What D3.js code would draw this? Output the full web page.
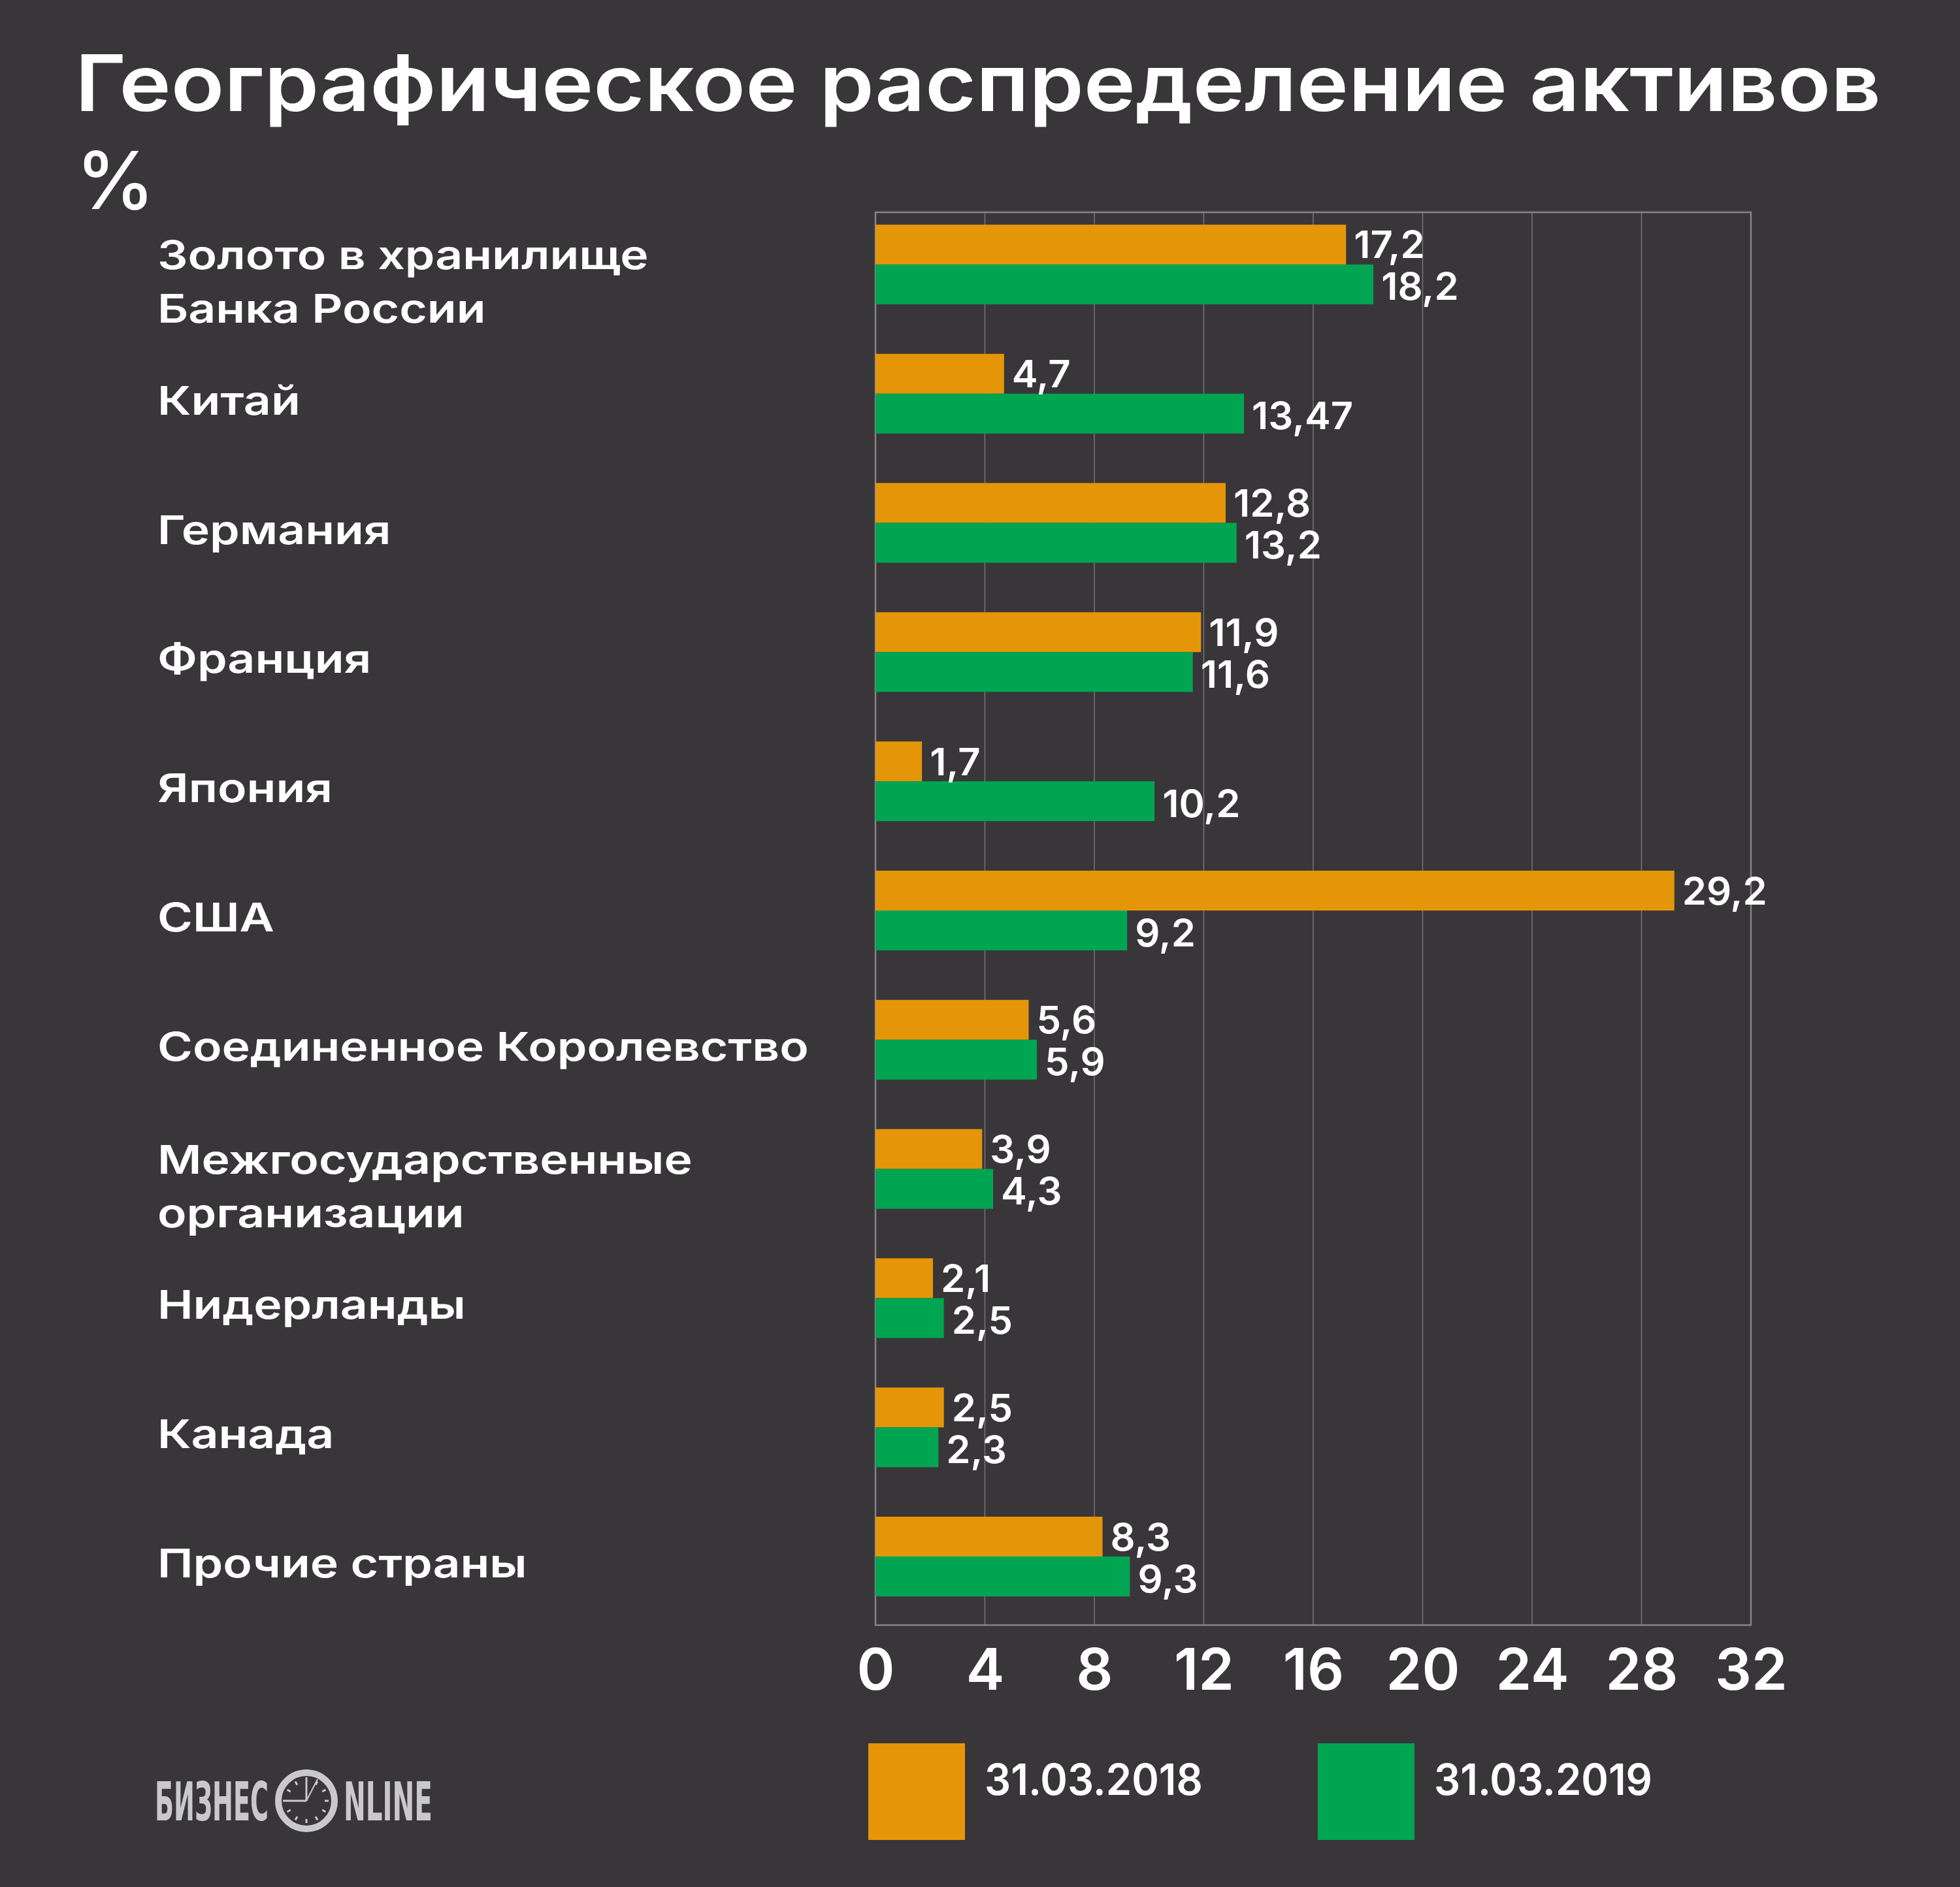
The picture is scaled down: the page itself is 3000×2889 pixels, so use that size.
<!DOCTYPE html>
<html>
<head>
<meta charset="utf-8">
<script src="https://cdn.jsdelivr.net/npm/d3@7"></script>
<style>
  html, body { margin: 0; padding: 0; background: #39363a; }
  svg { display: block; }
</style>
</head>
<body>
<svg id="chart" width="3000" height="2889"></svg>
<script>
// ---- DATA ----
const categories = [
  "Золото в хранилище\nБанка России",
  "Китай",
  "Германия",
  "Франция",
  "Япония",
  "США",
  "Соединенное Королевство",
  "Межгосударственные\nорганизации",
  "Нидерланды",
  "Канада",
  "Прочие страны"
];
const values2018 = [17.2, 4.7, 12.8, 11.9, 1.7, 29.2, 5.6, 3.9, 2.1, 2.5, 8.3];
const values2019 = [18.2, 13.47, 13.2, 11.6, 10.2, 9.2, 5.9, 4.3, 2.5, 2.3, 9.3];
const seriesNames = ["31.03.2018", "31.03.2019"];
const tickValues = [0, 4, 8, 12, 16, 20, 24, 28, 32];
const titleText = "Географическое распределение активов";
const unitText = "%";

// ---- STYLE ----
const BG = "#39363a";
const ORANGE = "#e59608";
const GREEN = "#00a551";
const FONT = "Inter, 'Open Sans', 'DejaVu Sans', sans-serif";

const svg = d3.select("#chart");
svg.append("rect").attr("width", 3000).attr("height", 2889).attr("fill", BG);

const frame = { left: 1340, right: 2680, top: 325, bottom: 2488 };

const x = d3.scaleLinear().domain([0, 32]).range([frame.left, frame.right]);
const y = d3.scaleBand().domain(categories).range([306, 2482]).paddingInner(0).paddingOuter(0);
const barH = 61;

function stretch(sel, k) {
  sel.each(function () {
    const w = this.getComputedTextLength();
    d3.select(this).attr("textLength", w * k).attr("lengthAdjust", "spacingAndGlyphs");
  });
}
function fitWidth(sel, target) {
  sel.each(function () {
    const t = d3.select(this);
    const w = this.getComputedTextLength();
    const x0 = +t.attr("x");
    const sx = target / w;
    t.attr("transform", `translate(${x0},0) scale(${sx},1) translate(${-x0},0)`);
  });
}

// Title
const title = svg.append("text")
  .attr("x", 115).attr("y", 170)
  .attr("fill", "#ffffff")
  .attr("font-family", FONT).attr("font-weight", 600).attr("font-size", 120)
  .text(titleText);
title.attr("textLength", 2764).attr("lengthAdjust", "spacingAndGlyphs");

svg.append("text")
  .attr("x", 116).attr("y", 320)
  .attr("fill", "#ffffff")
  .attr("font-family", FONT).attr("font-weight", 500).attr("font-size", 122)
  .text(unitText);

// Gridlines + frame
const grid = svg.append("g");
grid.selectAll("line.grid")
  .data(tickValues.filter(t => t > 0 && t < 32))
  .join("line")
  .attr("x1", d => x(d)).attr("x2", d => x(d))
  .attr("y1", frame.top).attr("y2", frame.bottom)
  .attr("stroke", "#77737a").attr("stroke-width", 1.5);
grid.append("rect")
  .attr("x", frame.left).attr("y", frame.top)
  .attr("width", frame.right - frame.left).attr("height", frame.bottom - frame.top)
  .attr("fill", "none").attr("stroke", "#87838a").attr("stroke-width", 2.5);

// Bars
const rows = categories.map((c, i) => ({ cat: c, v18: values2018[i], v19: values2019[i] }));
const center = c => y(c) + y.bandwidth() / 2;

const barsG = svg.append("g");
barsG.selectAll("rect.b18").data(rows).join("rect")
  .attr("x", x(0)).attr("y", d => center(d.cat) - barH)
  .attr("width", d => x(d.v18) - x(0)).attr("height", barH)
  .attr("fill", ORANGE);
barsG.selectAll("rect.b19").data(rows).join("rect")
  .attr("x", x(0)).attr("y", d => center(d.cat))
  .attr("width", d => x(d.v19) - x(0)).attr("height", barH)
  .attr("fill", GREEN);

const fmt = v => String(v).replace(".", ",");
const valueStyle = s => s.attr("fill", "#ffffff").attr("font-family", FONT)
  .attr("font-weight", 600).attr("font-size", 58);

const vl18 = barsG.selectAll("text.v18").data(rows).join("text")
  .attr("x", d => x(d.v18) + 12).attr("y", d => center(d.cat) - barH / 2 + 21)
  .call(valueStyle).text(d => fmt(d.v18));
const vl19 = barsG.selectAll("text.v19").data(rows).join("text")
  .attr("x", d => x(d.v19) + 12).attr("y", d => center(d.cat) + barH / 2 + 24)
  .call(valueStyle).text(d => fmt(d.v19));
stretch(vl18, 1.03);
stretch(vl19, 1.03);

// Category labels
const catG = svg.append("g");
catG.selectAll("text.cat").data(categories).join("text")
  .attr("fill", "#ffffff").attr("font-family", FONT).attr("font-weight", 600).attr("font-size", 61)
  .each(function (d) {
    const lines = d.split("\n");
    const t = d3.select(this);
    const c = center(d);
    const lh = 82;
    const startY = c + 32 - (lines.length - 1) * lh / 2 + (lines.length > 1 ? 16 : 0);
    lines.forEach((ln, i) => {
      t.append("tspan").attr("x", 241).attr("y", startY + i * lh).text(ln);
    });
  });
catG.selectAll("tspan").each(function () {
  const w = this.getComputedTextLength();
  d3.select(this).attr("textLength", w * 1.2).attr("lengthAdjust", "spacingAndGlyphs");
});

// Axis tick labels
const axisG = svg.append("g").attr("transform", `translate(0,${frame.bottom})`)
  .call(d3.axisBottom(x).tickValues(tickValues).tickSize(0).tickPadding(99).tickFormat(d3.format("d")));
axisG.select(".domain").remove();
axisG.selectAll("text")
  .attr("fill", "#ffffff").attr("font-family", FONT).attr("font-weight", 600).attr("font-size", 88)
  .attr("dy", 0);

// Legend
const legend = svg.append("g");
const legendItems = [
  { name: seriesNames[0], color: ORANGE, x: 1329 },
  { name: seriesNames[1], color: GREEN, x: 2017 }
];
legend.selectAll("rect").data(legendItems).join("rect")
  .attr("x", d => d.x).attr("y", 2669).attr("width", 148).attr("height", 148)
  .attr("fill", d => d.color);
legend.selectAll("text").data(legendItems).join("text")
  .attr("x", d => d.x + 178).attr("y", 2748)
  .attr("fill", "#ffffff").attr("font-family", FONT).attr("font-weight", 600).attr("font-size", 66)
  .text(d => d.name)
  .attr("textLength", 334).attr("lengthAdjust", "spacingAndGlyphs");

// Logo
const logo = svg.append("g");
const LOGO = "#c9c8cc";
const LFONT = "'Liberation Sans Narrow', 'DejaVu Sans Condensed', 'Liberation Sans', sans-serif";
const logoL = logo.append("text").attr("x", 237).attr("y", 2787)
  .attr("fill", LOGO).attr("font-family", LFONT).attr("font-weight", 700).attr("font-size", 82)
  .text("БИЗНЕС");
fitWidth(logoL, 174);
const logoR = logo.append("text").attr("x", 526).attr("y", 2787)
  .attr("fill", LOGO).attr("font-family", LFONT).attr("font-weight", 700).attr("font-size", 82)
  .text("NLINE");
fitWidth(logoR, 136);
const cx = 469, cy = 2757;
logo.append("circle").attr("cx", cx).attr("cy", cy).attr("r", 43)
  .attr("fill", "none").attr("stroke", LOGO).attr("stroke-width", 10);
d3.range(12).forEach(i => {
  if (i === 0 || i === 9) return;
  const a = i * Math.PI / 6;
  logo.append("line")
    .attr("x1", cx + Math.sin(a) * 28).attr("y1", cy - Math.cos(a) * 28)
    .attr("x2", cx + Math.sin(a) * 34).attr("y2", cy - Math.cos(a) * 34)
    .attr("stroke", LOGO).attr("stroke-width", 3);
});
logo.append("line").attr("x1", cx).attr("y1", cy).attr("x2", cx).attr("y2", cy - 36)
  .attr("stroke", LOGO).attr("stroke-width", 3);
logo.append("line").attr("x1", cx).attr("y1", cy).attr("x2", cx - 36).attr("y2", cy)
  .attr("stroke", LOGO).attr("stroke-width", 3);
logo.append("line").attr("x1", cx).attr("y1", cy).attr("x2", cx + 17).attr("y2", cy - 33)
  .attr("stroke", LOGO).attr("stroke-width", 2);
</script>
</body>
</html>
